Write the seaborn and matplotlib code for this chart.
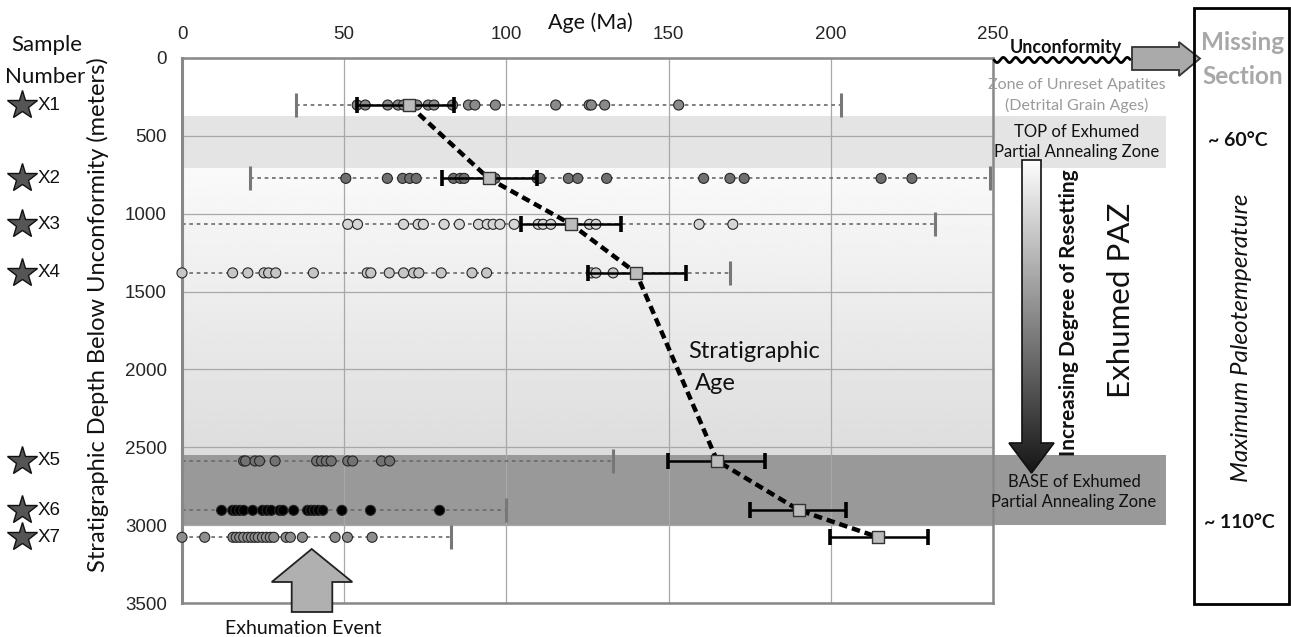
import numpy as np
import pandas as pd
import matplotlib
matplotlib.use("Agg")
import matplotlib.pyplot as plt
import matplotlib.transforms as mtransforms
from matplotlib.patches import Rectangle, Polygon
import seaborn as sns

# ---------------- data ----------------
samples = ["X1", "X2", "X3", "X4", "X5", "X6", "X7"]
depths = [302, 773, 1068, 1380, 2588, 2905, 3078]          # m below unconformity
strat_age = [70, 94.5, 120, 140, 165, 190.3, 214.7]          # Ma (mean / stratigraphic)
err_low = [54, 80, 104.6, 125, 149.8, 175.2, 199.6]
err_high = [84, 109.5, 135.3, 155.5, 179.7, 204.8, 230]
range_min = [35, 21, 0, 0, 0, 0, 0]
range_max = [203, 249, 232, 169, 133, 100, 83]

ages_X1 = [54, 56.5, 63.4, 66.6, 68.3, 72.4, 75.9, 77.7, 83.4, 88.3, 90.3, 96.6, 115.2, 125.5, 126.2, 130.3, 153.1]
ages_X2 = [50.5, 63.3, 68, 70.2, 72.2, 83.7, 85.8, 87, 96.5, 109.5, 110.4, 119.1, 122, 130.9, 160.8, 168.9, 173.3, 215.5, 225]
ages_X3 = [51.1, 54.1, 68.3, 72.8, 74.4, 80.8, 85.5, 91.4, 94.1, 95.9, 98, 102.4, 109.8, 111.3, 113.7, 125.6, 127.6, 159.4, 169.8]
ages_X4 = [0, 15.6, 20.3, 25.3, 26.7, 28.9, 40.5, 57.1, 58.2, 63.9, 68.3, 71.4, 73, 79.9, 89.4, 93.9, 126.2, 127.6, 132.9]
ages_X5 = [19, 19.6, 22.5, 23.9, 28.7, 41.5, 43, 44.5, 46, 51.1, 52.6, 61.5, 64]
ages_X6 = [12.2, 15.6, 16.6, 17.8, 19, 21.8, 24.8, 26.2, 27.5, 30.1, 31.1, 34.4, 38.7, 39.7, 40.8, 42, 43.4, 49.3, 58.1, 79.4]
ages_X7 = [0, 7, 15.7, 16.7, 17.8, 19, 20.3, 21.4, 22.5, 23.5, 24.8, 26, 27.2, 28.3, 32.1, 33.4, 37.1, 47.2, 51, 58.6]
grain_ages = [ages_X1, ages_X2, ages_X3, ages_X4, ages_X5, ages_X6, ages_X7]
grain_colors = ["#8a8a8a", "#6f6f6f", "#d6d6d6", "#c6c6c6", "#727272", "#000000", "#8e8e8e"]

x_ticks = [0, 50, 100, 150, 200, 250]
y_ticks = [0, 500, 1000, 1500, 2000, 2500, 3000, 3500]

top_paz = (370, 708)        # light band
base_paz = (2550, 3002)     # dark band

# ---------------- style ----------------
sns.set_theme(style="white")
plt.rcParams["font.family"] = ["Lato", "DejaVu Sans"]
TICKFONT = ["Liberation Sans", "DejaVu Sans"]

W, H = 1291, 637
fig = plt.figure(figsize=(W / 100, H / 100), dpi=100)
ax = fig.add_axes([182 / W, 1 - 603 / H, 811 / W, 545 / H])

grain_df = pd.DataFrame({
    "sample": np.concatenate([[s] * len(a) for s, a in zip(samples, grain_ages)]),
    "age": np.concatenate(grain_ages),
    "depth": np.concatenate([[d] * len(a) for d, a in zip(depths, grain_ages)]),
})
mean_df = pd.DataFrame({"sample": samples, "age": strat_age, "depth": depths})

# background bands
trans = mtransforms.blended_transform_factory(ax.transAxes, ax.transData)
ext = (1166 - 182) / 811
ax.add_patch(Rectangle((0, top_paz[0]), ext, top_paz[1] - top_paz[0], transform=trans,
                       facecolor="#e4e4e4", edgecolor="none", clip_on=False, zorder=0.2))
ax.add_patch(Rectangle((0, base_paz[0]), ext, base_paz[1] - base_paz[0], transform=trans,
                       facecolor="#999999", edgecolor="none", clip_on=False, zorder=0.2))
grad = np.linspace(0.98, 0.865, 256)[:, None]
ax.imshow(grad, extent=[0, 250, base_paz[0], top_paz[1]], cmap="gray", vmin=0, vmax=1,
          aspect="auto", zorder=0.1, interpolation="bilinear")

# ranges
ax.hlines(depths, range_min, range_max, colors="#6a6a6a", linestyles=(0, (2.2, 2.2)), lw=1.2, zorder=2)
ax.plot(range_min + range_max, depths + depths, linestyle="none", marker="|", markersize=17,
        mew=2.2, color="#777777", zorder=2, clip_on=False)

# grain ages
sns.scatterplot(data=grain_df, x="age", y="depth", hue="sample", palette=dict(zip(samples, grain_colors)),
                s=52, edgecolor="#262626", linewidth=0.8, legend=False, ax=ax, zorder=3, clip_on=False)

# error bars
ax.errorbar(strat_age, depths,
            xerr=[np.array(strat_age) - np.array(err_low), np.array(err_high) - np.array(strat_age)],
            fmt="none", ecolor="black", elinewidth=1.8, capsize=6, capthick=2.6, zorder=4)

# stratigraphic age line
sns.lineplot(data=mean_df, x="age", y="depth", sort=False, estimator=None, color="black",
             lw=3.2, linestyle=(0, (1.9, 1.1)), ax=ax, zorder=5)
sns.scatterplot(data=mean_df, x="age", y="depth", marker="s", s=66, color="#bcbcbc",
                edgecolor="#333333", linewidth=1.0, legend=False, ax=ax, zorder=6)

# axes formatting
ax.set_xlim(0, 250)
ax.set_ylim(3500, 0)
ax.set_xticks(x_ticks)
ax.set_yticks(y_ticks)
ax.xaxis.tick_top()
ax.tick_params(axis="both", length=0, labelsize=13.5)
ax.tick_params(axis="x", pad=11)
ax.tick_params(axis="y", pad=11)
for lab in ax.get_xticklabels() + ax.get_yticklabels():
    lab.set_family(TICKFONT)
ax.set_xlabel("")
ax.set_ylabel("Stratigraphic Depth Below Unconformity (meters)", fontsize=17, color="#111111")
ax.yaxis.set_label_coords((109 - 182) / 811, 1 - (315 - 58) / 545)
ax.set_axisbelow(True)
ax.grid(True, color="#a8a8a8", lw=0.9)
for name, sp in ax.spines.items():
    sp.set_color("#888888")
    sp.set_linewidth(2.2 if name == "left" else 1.8)
    sp.set_zorder(2.5)

# sample stars and labels (anchored to depths)
ax.plot([(22 - 182) / 811] * len(depths), depths, linestyle="none", marker="*", markersize=22,
        color="#555555", mec="#111111", mew=1.0, transform=trans, clip_on=False, zorder=6)
for s, d in zip(samples, depths):
    ax.text((38 - 182) / 811, d, s, transform=trans, ha="left", va="center", fontsize=13.5,
            family=TICKFONT, color="#111111")

# ---------------- overlay annotations (figure pixels) ----------------
ov = fig.add_axes([0, 0, 1, 1], zorder=5)
ov.patch.set_alpha(0)

ov.text(590, 23, "Age (Ma)", ha="center", va="center", fontsize=15.5, color="#111111")
ov.text(47, 45, "Sample", ha="center", va="center", fontsize=16, color="#111111")
ov.text(45, 77, "Number", ha="center", va="center", fontsize=16, color="#111111")
ov.text(688, 352, "Stratigraphic", ha="left", va="center", fontsize=17, color="#111111")
ov.text(695, 384, "Age", ha="left", va="center", fontsize=17, color="#111111")

# exhumation arrow
ov.add_patch(Polygon([(311.7, 549), (352.3, 582), (332.3, 582), (332.3, 612), (291.7, 612),
                      (291.7, 582), (271.7, 582)], closed=True, facecolor="#b0b0b0",
                     edgecolor="#222222", lw=1.3))
ov.text(303, 628, "Exhumation Event", ha="center", va="center", fontsize=14, color="#111111")

# unconformity
ov.text(1066, 47, "Unconformity", ha="center", va="center", fontsize=13, fontweight="bold", color="#111111")
xs = np.linspace(994, 1130, 600)
ov.plot(xs, 60 + 2.6 * np.sin(2 * np.pi * (xs - 994) / 12.4), color="black", lw=2)
ov.add_patch(Polygon([(1132, 47), (1179, 47), (1179, 42), (1200, 58.5), (1179, 76), (1179, 70), (1132, 70)],
                     closed=True, facecolor="#aaaaaa", edgecolor="#333333", lw=1.3))

ov.text(1077, 85, "Zone of Unreset Apatites", ha="center", va="center", fontsize=11.5, color="#9a9a9a")
ov.text(1077, 105, "(Detrital Grain Ages)", ha="center", va="center", fontsize=11.5, color="#9a9a9a")
ov.text(1077, 132, "TOP of Exhumed", ha="center", va="center", fontsize=12, color="#111111")
ov.text(1077, 152, "Partial Annealing Zone", ha="center", va="center", fontsize=12, color="#111111")
ov.text(1074, 482, "BASE of Exhumed", ha="center", va="center", fontsize=12, color="#111111")
ov.text(1074, 502, "Partial Annealing Zone", ha="center", va="center", fontsize=12, color="#111111")

# gradient arrow
arrow = Polygon([(1022, 160), (1041, 160), (1041, 443), (1054, 443), (1031.5, 473), (1009, 443), (1022, 443)],
                closed=True, facecolor="none", edgecolor="#111111", lw=1.2, zorder=3)
ov.add_patch(arrow)
im = ov.imshow(np.linspace(1.0, 0.08, 256)[:, None], extent=[1005, 1058, 475, 158], cmap="gray",
               vmin=0, vmax=1, aspect="auto", zorder=2, interpolation="bilinear")
im.set_clip_path(arrow)

ov.text(1069, 313, "Increasing Degree of Resetting", rotation=90, ha="center", va="center",
        fontsize=15, fontweight="bold", color="#111111")
ov.text(1121, 300, "Exhumed PAZ", rotation=90, ha="center", va="center", fontsize=22.5, color="#111111")

# right box
ov.add_patch(Rectangle((1194, 8), 95, 596, facecolor="none", edgecolor="black", lw=2))
ov.text(1243, 43, "Missing", ha="center", va="center", fontsize=17.5, fontweight="bold", color="#a8a8a8")
ov.text(1243, 77, "Section", ha="center", va="center", fontsize=17.5, fontweight="bold", color="#a8a8a8")
ov.text(1238, 141, "~ 60°C", ha="center", va="center", fontsize=14, fontweight="bold", color="#111111")
ov.text(1242, 338, "Maximum Paleotemperature", rotation=90, ha="center", va="center", fontsize=17.5,
        style="italic", color="#111111")
ov.text(1239, 523, "~ 110°C", ha="center", va="center", fontsize=14, fontweight="bold", color="#111111")

ov.set_xlim(0, W)
ov.set_ylim(H, 0)
ov.axis("off")

fig.savefig("out.png", dpi=100)
